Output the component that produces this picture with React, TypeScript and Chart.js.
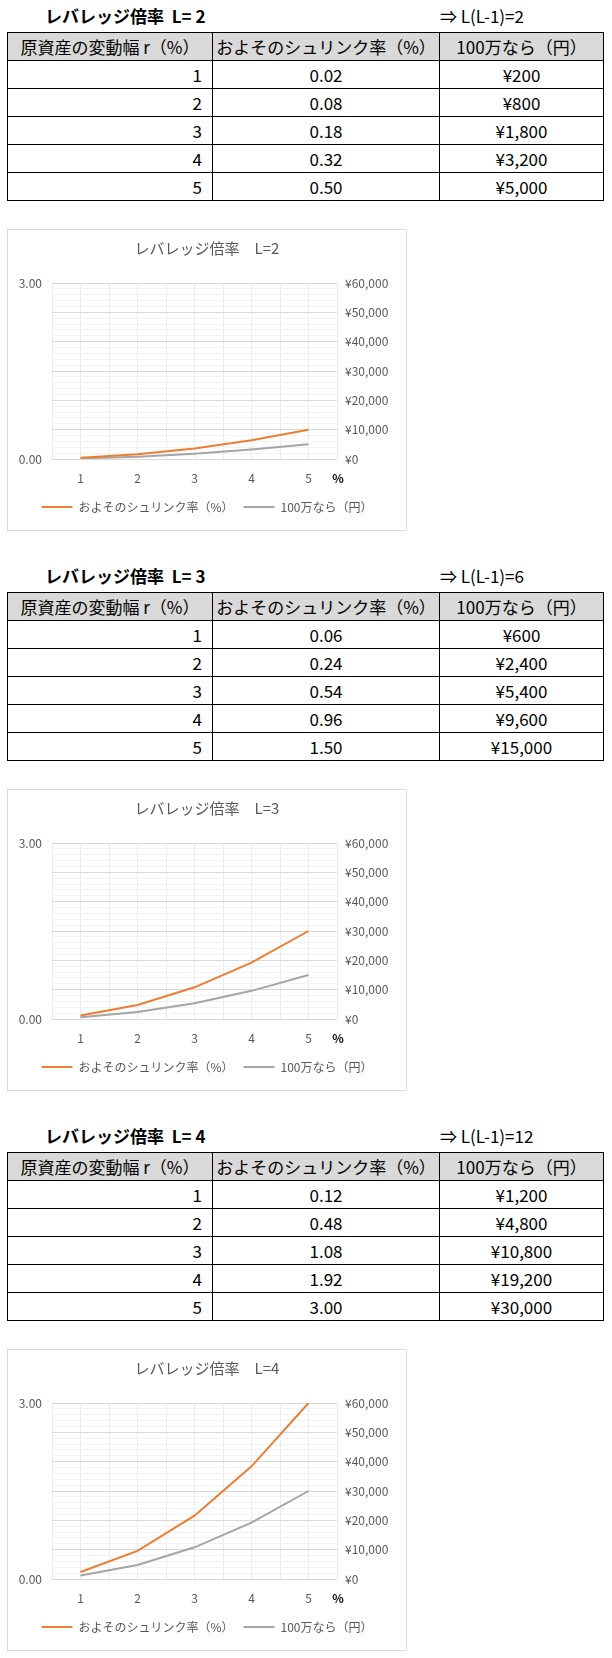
import React, { useEffect, useRef } from "react";
import { Chart, registerables } from "chart.js";

Chart.register(...registerables);

// ---- data ----
const leverages = [2, 3, 4];
const leverageProducts = [2, 6, 12]; // L(L-1)
const moveRates = [1, 2, 3, 4, 5];
const shrinkL2 = [0.02, 0.08, 0.18, 0.32, 0.5];
const shrinkL3 = [0.06, 0.24, 0.54, 0.96, 1.5];
const shrinkL4 = [0.12, 0.48, 1.08, 1.92, 3.0];
const yenL2 = [200, 800, 1800, 3200, 5000];
const yenL3 = [600, 2400, 5400, 9600, 15000];
const yenL4 = [1200, 4800, 10800, 19200, 30000];
const tableHeaders = ["原資産の変動幅 r（%）", "およそのシュリンク率（%）", "100万なら（円）"];
const seriesNames = ["およそのシュリンク率（%）", "100万なら（円）"];
const leftTicks = [0, 3];
const rightMajorTicks = [0, 10000, 20000, 30000, 40000, 50000, 60000];
const xUnit = "%";

const shrinkSets = [shrinkL2, shrinkL3, shrinkL4];
const yenSets = [yenL2, yenL3, yenL4];

const FONT = '"Noto Sans CJK JP", "Noto Sans", sans-serif';
const BLOCK = 560;

const unitPlugin = {
  id: "unitLabel",
  afterDraw(chart: any) {
    const { ctx, chartArea } = chart;
    ctx.save();
    ctx.font = `bold 12px ${FONT}`;
    ctx.fillStyle = "#000000";
    ctx.textAlign = "center";
    ctx.textBaseline = "middle";
    ctx.fillText(xUnit, chartArea.right + 1, chartArea.bottom + 19);
    ctx.restore();
  },
};

function LevChart({ L, shrink, yen }: { L: number; shrink: number[]; yen: number[] }) {
  const ref = useRef<HTMLCanvasElement>(null);
  useEffect(() => {
    const chart = new Chart(ref.current as HTMLCanvasElement, {
      type: "line",
      data: {
        datasets: [
          {
            label: seriesNames[0],
            data: moveRates.map((x, i) => ({ x, y: shrink[i] })),
            borderColor: "#ED7D31",
            backgroundColor: "#ED7D31",
            borderWidth: 2,
            pointRadius: 0,
            yAxisID: "y",
          },
          {
            label: seriesNames[1],
            data: moveRates.map((x, i) => ({ x, y: yen[i] })),
            borderColor: "#A5A5A5",
            backgroundColor: "#A5A5A5",
            borderWidth: 2,
            pointRadius: 0,
            yAxisID: "y2",
          },
        ],
      },
      options: {
        animation: false,
        responsive: false,
        layout: { padding: { left: 0, right: 0, top: 0, bottom: 7 } },
        font: { family: FONT },
        plugins: {
          title: {
            display: true,
            text: `レバレッジ倍率　L=${L}`,
            color: "#595959",
            font: { family: FONT, size: 15, weight: "normal" },
            padding: { top: 9, bottom: 26 },
          },
          legend: {
            position: "bottom",
            labels: {
              usePointStyle: true,
              pointStyle: "line",
              pointStyleWidth: 31,
              color: "#595959",
              font: { family: FONT, size: 12 },
              padding: 10,
            },
          },
          tooltip: { enabled: false },
        },
        scales: {
          x: {
            type: "linear",
            min: 0.5,
            max: 5.5,
            ticks: {
              stepSize: 0.5,
              autoSkip: false,
              maxRotation: 0,
              color: "#595959",
              font: { family: FONT, size: 12 },
              padding: 12,
              callback: (v: any) => (Number.isInteger(Number(v)) ? String(v) : ""),
            },
            grid: { color: "#ebebeb", drawTicks: false },
            border: { display: false },
            afterFit: (s: any) => {
              s.height = 32;
            },
          },
          y: {
            position: "left",
            min: 0,
            max: 3,
            afterBuildTicks: (s: any) => {
              s.ticks = leftTicks.map((v) => ({ value: v }));
            },
            ticks: {
              color: "#595959",
              font: { family: FONT, size: 12 },
              padding: 10,
              callback: (v: any) => Number(v).toFixed(2),
            },
            grid: { display: false, drawTicks: false },
            border: { display: false },
            afterFit: (s: any) => {
              s.width = 44;
            },
          },
          y2: {
            position: "right",
            min: 0,
            max: 60000,
            ticks: {
              stepSize: 2000,
              autoSkip: false,
              color: "#595959",
              font: { family: FONT, size: 12 },
              padding: 8,
              callback: (v: any) =>
                rightMajorTicks.includes(Number(v)) ? "¥" + Number(v).toLocaleString("en-US") : "",
            },
            grid: {
              drawTicks: false,
              color: (c: any) => (rightMajorTicks.includes(c.tick?.value) ? "#d9d9d9" : "#f2f2f2"),
            },
            border: { display: false },
            afterFit: (s: any) => {
              s.width = 69;
            },
          },
        },
      } as any,
      plugins: [unitPlugin],
    });
    return () => chart.destroy();
  }, [L, shrink, yen]);
  return <canvas ref={ref} width={398} height={300} style={{ display: "block" }} />;
}

const cell: React.CSSProperties = {
  border: "1px solid #000",
  height: 27,
  padding: 0,
  fontSize: 17,
  lineHeight: "27px",
  whiteSpace: "nowrap",
  overflow: "hidden",
};

function Block({ idx }: { idx: number }) {
  const off = idx * BLOCK;
  const L = leverages[idx];
  const shrink = shrinkSets[idx];
  const yen = yenSets[idx];
  return (
    <>
      <div
        style={{
          position: "absolute",
          left: 45,
          top: off,
          height: 32,
          lineHeight: "32px",
          fontWeight: "bold",
          fontSize: 17,
          whiteSpace: "pre",
        }}
      >
        {`レバレッジ倍率  L= ${L}`}
      </div>
      <div
        style={{
          position: "absolute",
          left: 440,
          top: off,
          height: 32,
          lineHeight: "32px",
          fontSize: 17,
          whiteSpace: "pre",
        }}
      >
        {`⇒ L(L-1)=${leverageProducts[idx]}`}
      </div>
      <table
        style={{
          position: "absolute",
          left: 7,
          top: off + 32,
          borderCollapse: "collapse",
          tableLayout: "fixed",
          width: 596,
        }}
      >
        <colgroup>
          <col style={{ width: 205 }} />
          <col style={{ width: 227 }} />
          <col style={{ width: 164 }} />
        </colgroup>
        <tbody>
          <tr style={{ background: "#d9d9d9" }}>
            {tableHeaders.map((h) => (
              <td key={h} style={{ ...cell, textAlign: "center" }}>
                {h}
              </td>
            ))}
          </tr>
          {moveRates.map((r, i) => (
            <tr key={r}>
              <td style={{ ...cell, textAlign: "right", paddingRight: 10 }}>{r}</td>
              <td style={{ ...cell, textAlign: "center" }}>{shrink[i].toFixed(2)}</td>
              <td style={{ ...cell, textAlign: "center" }}>{"¥" + yen[i].toLocaleString("en-US")}</td>
            </tr>
          ))}
        </tbody>
      </table>
      <div
        style={{
          position: "absolute",
          left: 7,
          top: off + 229,
          width: 400,
          height: 302,
          boxSizing: "border-box",
          border: "1px solid #d9d9d9",
          background: "#fff",
        }}
      >
        <LevChart L={L} shrink={shrink} yen={yen} />
      </div>
    </>
  );
}

export default function App() {
  return (
    <div
      style={{
        position: "relative",
        width: 612,
        height: 1658,
        fontFamily: FONT,
        color: "#000",
        background: "#fff",
      }}
    >
      <style>{`body{margin:0;background:#fff}`}</style>
      {leverages.map((_, i) => (
        <Block key={i} idx={i} />
      ))}
    </div>
  );
}
